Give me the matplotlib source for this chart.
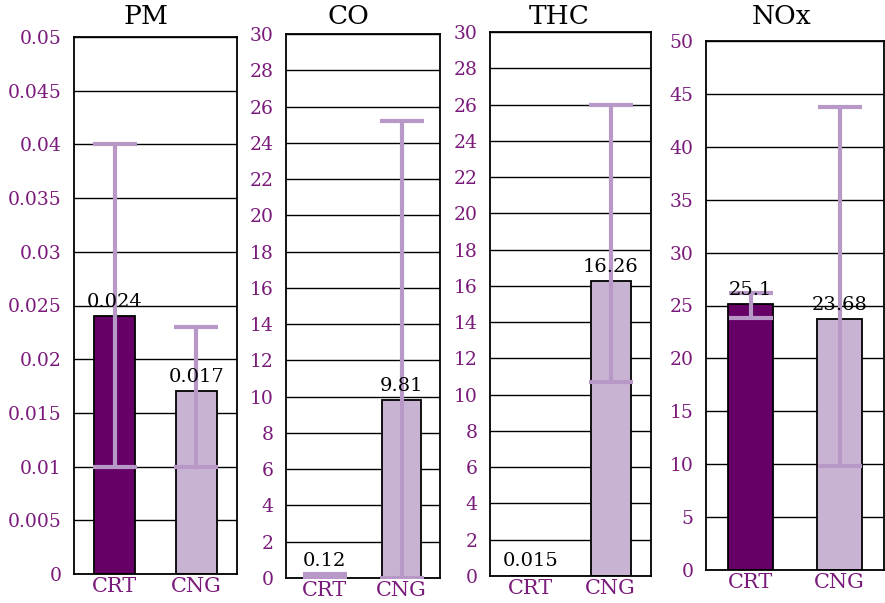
import matplotlib.pyplot as plt
from matplotlib.ticker import FuncFormatter, MultipleLocator

plt.rcParams['font.family'] = ['DejaVu Serif', 'Liberation Serif']

# Emission results per pollutant: mean value with low/high range
groups = ['CRT', 'CNG']
pollutants = ['PM', 'CO', 'THC', 'NOx']
means = {
    'PM': [0.024, 0.017],
    'CO': [0.12, 9.81],
    'THC': [0.015, 16.26],
    'NOx': [25.1, 23.68],
}
# None where no range is shown
lows = {
    'PM': [0.010, 0.010],
    'CO': [0.05, 0.0],
    'THC': [None, 10.7],
    'NOx': [23.8, 9.8],
}
highs = {
    'PM': [0.040, 0.023],
    'CO': [0.2, 25.2],
    'THC': [None, 26.0],
    'NOx': [26.2, 43.8],
}
ymax = {'PM': 0.05, 'CO': 30, 'THC': 30, 'NOx': 50}
ystep = {'PM': 0.005, 'CO': 2, 'THC': 2, 'NOx': 5}

bar_colors = ['#660066', '#c9b3d3']
err_color = '#b898c6'
tick_color = '#7a1a7a'

W, H = 885, 603
fig = plt.figure(figsize=(W / 100, H / 100), dpi=100)

# axes boxes in pixels: left, top, right, bottom
boxes = {
    'PM': (74, 37, 237, 574),
    'CO': (286, 34, 440, 578),
    'THC': (490, 32, 651, 576),
    'NOx': (706, 41, 884, 570),
}
# title centres in pixels
title_pos = {'PM': (146, 17), 'CO': (348, 17), 'THC': (559, 16), 'NOx': (782, 16)}

for name in pollutants:
    l, t, r, b = boxes[name]
    ax = fig.add_axes([l / W, 1 - b / H, (r - l) / W, (b - t) / H])
    x = [0, 1]
    vals = means[name]
    ax.bar(x, vals, width=0.5, color=bar_colors, edgecolor='black',
           linewidth=1.3, zorder=2)
    for xi, v, lo, hi in zip(x, vals, lows[name], highs[name]):
        if lo is None:
            continue
        ax.errorbar([xi], [v], yerr=[[v - lo], [hi - v]], fmt='none',
                    ecolor=err_color, elinewidth=3, capsize=15.5, capthick=3,
                    zorder=3)

    # value labels just above each bar
    for xi, v in zip(x, vals):
        ax.annotate(f'{v:g}', (xi, v), xytext=(0, 4), textcoords='offset points',
                    ha='center', va='bottom', fontsize=14, color='black', zorder=4)

    ax.set_xlim(-0.5, 1.5)
    ax.set_ylim(0, ymax[name])
    ax.yaxis.set_major_locator(MultipleLocator(ystep[name]))
    ax.yaxis.set_major_formatter(FuncFormatter(lambda v, p: f'{round(v, 4):g}'))
    ax.set_xticks(x)
    ax.set_xticklabels(groups)
    ax.tick_params(axis='y', length=0, pad=9, labelsize=13.5, labelcolor=tick_color)
    ax.tick_params(axis='x', length=0, pad=2, labelsize=15, labelcolor=tick_color)
    ax.grid(axis='y', color='black', linewidth=1, zorder=0)
    ax.set_axisbelow(True)
    for s in ax.spines.values():
        s.set_color('black')
        s.set_linewidth(1.3)

    tx, ty = title_pos[name]
    fig.text(tx / W, 1 - ty / H, name, fontsize=19, ha='center', va='center')

fig.savefig('out.png', dpi=100)
